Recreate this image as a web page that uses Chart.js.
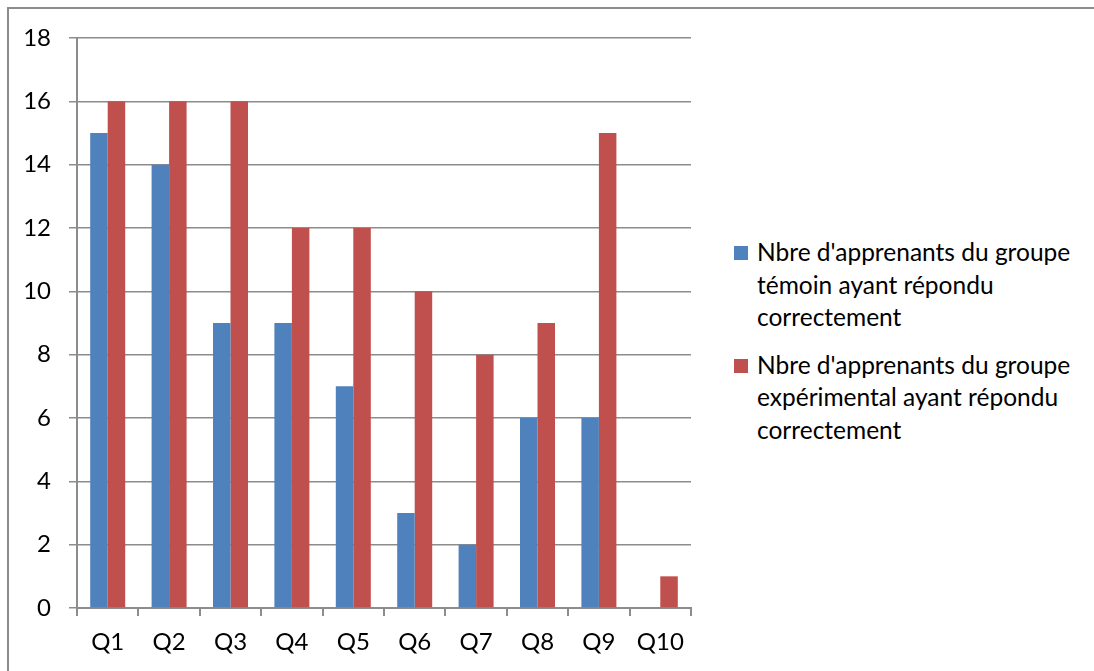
<!DOCTYPE html>
<html>
<head>
<meta charset="utf-8">
<script src="https://cdn.jsdelivr.net/npm/chart.js@4/dist/chart.umd.min.js"></script>
<style>
  body { margin: 0; background: #fff; font-family: Lato, "Open Sans", sans-serif; overflow: hidden; }
  #frame { position: absolute; left: 7px; top: 7px; width: 1100px; height: 700px; border: 2px solid #8c8c8c; box-sizing: border-box; }
  #wrap { position: absolute; left: 0; top: 0; width: 720px; height: 671px; }
  #legend { position: absolute; left: 734px; top: 236px; width: 360px; font-size: 24.5px; line-height: 32.5px; color: #000; }
  .item { position: relative; padding-left: 23px; margin-bottom: 15px; white-space: nowrap; }
  .box { position: absolute; left: 0; top: 10px; width: 14px; height: 14px; }
</style>
</head>
<body>
<div id="frame"></div>
<div id="wrap"><canvas id="chart"></canvas></div>
<div id="legend"></div>
<script>
const categories = ['Q1', 'Q2', 'Q3', 'Q4', 'Q5', 'Q6', 'Q7', 'Q8', 'Q9', 'Q10'];
const temoin = [15, 14, 9, 9, 7, 3, 2, 6, 6, 0];
const experimental = [16, 16, 16, 12, 12, 10, 8, 9, 15, 1];
const seriesNames = [
    "Nbre d'apprenants du groupe témoin ayant répondu correctement",
    "Nbre d'apprenants du groupe expérimental ayant répondu correctement"
];
const legendLines = [
    ["Nbre d'apprenants du groupe", "témoin ayant répondu", "correctement"],
    ["Nbre d'apprenants du groupe", "expérimental ayant répondu", "correctement"]
];
const colors = ['#4F81BD', '#C0504D'];

Chart.defaults.font.family = 'Lato, "Open Sans", sans-serif';
Chart.defaults.color = '#000';

const gray = '#8c8c8c';

new Chart(document.getElementById('chart'), {
    type: 'bar',
    data: {
        labels: categories,
        datasets: [
            { label: seriesNames[0], data: temoin, backgroundColor: colors[0] },
            { label: seriesNames[1], data: experimental, backgroundColor: colors[1] }
        ]
    },
    options: {
        responsive: true,
        maintainAspectRatio: false,
        animation: false,
        categoryPercentage: 0.57,
        barPercentage: 1,
        layout: { padding: { top: 38, right: 29, bottom: 0, left: 0 } },
        plugins: { legend: { display: false }, tooltip: { enabled: false } },
        scales: {
            x: {
                grid: { offset: true, drawOnChartArea: false, color: gray, lineWidth: 2, tickLength: 8 },
                border: { color: gray, width: 2 },
                ticks: { font: { size: 24 }, padding: 12 },
                afterFit: (scale) => { scale.height = 63; }
            },
            y: {
                min: 0,
                max: 18,
                ticks: { stepSize: 2, font: { size: 24 }, padding: 18 },
                grid: { color: gray, lineWidth: 1.5, tickLength: 8 },
                border: { color: gray, width: 2 },
                afterFit: (scale) => { scale.width = 77; }
            }
        }
    }
});

const legend = document.getElementById('legend');
legendLines.forEach((lines, i) => {
    const item = document.createElement('div');
    item.className = 'item';
    item.innerHTML = '<span class="box" style="background:' + colors[i] + '"></span>' + lines.join('<br>');
    legend.appendChild(item);
});
</script>
</body>
</html>
